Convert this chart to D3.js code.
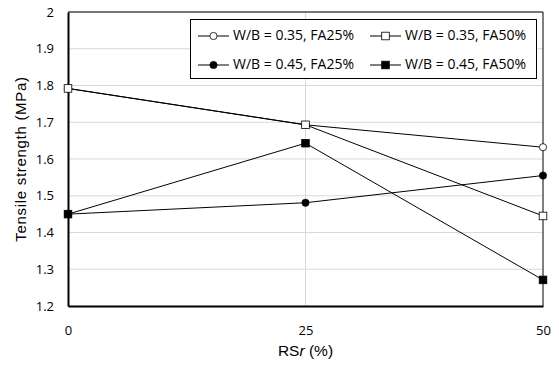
<!DOCTYPE html>
<html>
<head>
<meta charset="utf-8">
<script src="https://cdn.jsdelivr.net/npm/d3@7"></script>
<style>
  body { margin: 0; background: #fff; }
  svg { display: block; }
</style>
</head>
<body>
<svg width="559" height="368"></svg>
<script>
const rsr = [0, 25, 50];
const seriesNames = ["W/B = 0.35, FA25%", "W/B = 0.35, FA50%", "W/B = 0.45, FA25%", "W/B = 0.45, FA50%"];
const wb035fa25 = [1.792, 1.693, 1.632];
const wb035fa50 = [1.792, 1.693, 1.445];
const wb045fa25 = [1.450, 1.481, 1.555];
const wb045fa50 = [1.450, 1.643, 1.271];
const yTicks = [1.2, 1.3, 1.4, 1.5, 1.6, 1.7, 1.8, 1.9, 2];

const svg = d3.select("svg");
const tickFont = "'Open Sans', Calibri, sans-serif";
const titleFont = "'Liberation Sans', Arial, sans-serif";

const plotLeft = 68, plotRight = 543, plotTop = 12, plotBottom = 306;

const x = d3.scaleLinear().domain([0, 50]).range([plotLeft, plotRight]);
const y = d3.scaleLinear().domain([1.2, 2]).range([plotBottom, plotTop]);

// gridlines
svg.append("g")
    .attr("stroke", "#d9d9d9")
    .selectAll("line")
    .data(yTicks.slice(1))
    .enter().append("line")
    .attr("x1", plotLeft).attr("x2", plotRight)
    .attr("y1", d => y(d)).attr("y2", d => y(d));

svg.append("g")
    .attr("stroke", "#d9d9d9")
    .selectAll("line")
    .data(rsr.slice(1, 2))
    .enter().append("line")
    .attr("x1", d => x(d)).attr("x2", d => x(d))
    .attr("y1", plotTop).attr("y2", plotBottom);

// plot frame (thin top/right)
svg.append("path")
    .attr("fill", "none")
    .attr("stroke", "#000")
    .attr("stroke-width", 1)
    .attr("d", `M${plotLeft},${plotTop}H${plotRight}V${plotBottom}`);

// axes
const yAxis = svg.append("g")
    .attr("transform", `translate(${plotLeft},0)`)
    .call(d3.axisLeft(y).tickValues(yTicks).tickSize(0).tickPadding(14).tickFormat(d3.format("~g")));
yAxis.select(".domain").attr("stroke-width", 2);
yAxis.selectAll("text").attr("font-family", tickFont).attr("font-size", 13).attr("fill", "#000");

const xAxis = svg.append("g")
    .attr("transform", `translate(0,${plotBottom})`)
    .call(d3.axisBottom(x).tickValues(rsr).tickSize(0).tickPadding(20));
xAxis.select(".domain").attr("stroke-width", 2);
xAxis.selectAll("text").attr("font-family", tickFont).attr("font-size", 13).attr("fill", "#000");

// axis titles
svg.append("text")
    .attr("transform", `translate(22,${(plotTop + plotBottom) / 2}) rotate(-90)`)
    .attr("text-anchor", "middle")
    .attr("dominant-baseline", "middle")
    .attr("font-family", titleFont)
    .attr("font-size", 15)
    .attr("letter-spacing", 0.7)
    .text("Tensile strength (MPa)");

const xt = svg.append("text")
    .attr("x", x(25))
    .attr("y", 356)
    .attr("text-anchor", "middle")
    .attr("font-family", titleFont)
    .attr("font-size", 15.5);
xt.append("tspan").text("RS");
xt.append("tspan").attr("font-style", "italic").text("r");
xt.append("tspan").text(" (%)");

// series
const series = [
    {name: seriesNames[0], values: wb035fa25, shape: "circle", fill: "#fff"},
    {name: seriesNames[1], values: wb035fa50, shape: "square", fill: "#fff"},
    {name: seriesNames[2], values: wb045fa25, shape: "circle", fill: "#000"},
    {name: seriesNames[3], values: wb045fa50, shape: "square", fill: "#000"},
];

const line = d3.line().x((d, i) => x(rsr[i])).y(d => y(d));

function drawMarker(g, s, cx, cy) {
    if (s.shape === "circle") {
        g.append("circle").attr("cx", cx).attr("cy", cy).attr("r", 3.6)
            .attr("fill", s.fill).attr("stroke", "#000").attr("stroke-width", 0.8);
    } else {
        g.append("rect").attr("x", cx - 3.8).attr("y", cy - 3.8).attr("width", 7.6).attr("height", 7.6)
            .attr("fill", s.fill).attr("stroke", "#000").attr("stroke-width", 0.8);
    }
}

series.forEach(s => {
    const g = svg.append("g");
    g.append("path")
        .attr("d", line(s.values))
        .attr("fill", "none")
        .attr("stroke", "#000")
        .attr("stroke-width", 1);
    s.values.forEach((v, i) => drawMarker(g, s, x(rsr[i]), y(v)));
});

// legend
const legend = svg.append("g");
legend.append("rect")
    .attr("x", 190.5).attr("y", 19.5).attr("width", 346).attr("height", 59)
    .attr("fill", "#fff").attr("stroke", "#000").attr("stroke-width", 1);

const legendPos = [[198, 36], [370, 36], [198, 65], [370, 65]];
series.forEach((s, i) => {
    const [lx, ly] = legendPos[i];
    const g = legend.append("g");
    g.append("line").attr("x1", lx).attr("x2", lx + 31).attr("y1", ly).attr("y2", ly)
        .attr("stroke", "#000").attr("stroke-width", 1);
    drawMarker(g, s, lx + 15.5, ly);
    g.append("text")
        .attr("x", lx + 35).attr("y", ly)
        .attr("dominant-baseline", "middle")
        .attr("font-family", tickFont)
        .attr("font-size", 14)
        .text(s.name);
});
</script>
</body>
</html>
